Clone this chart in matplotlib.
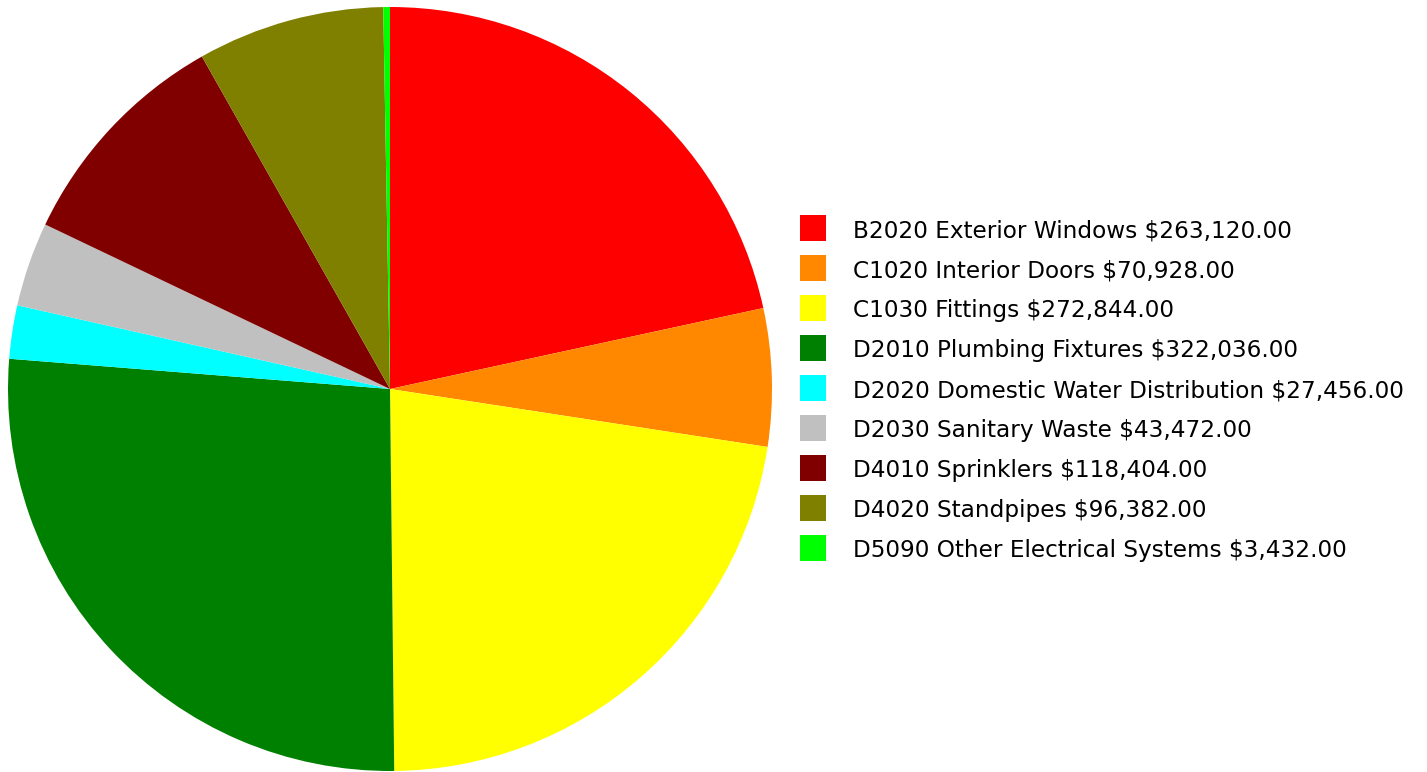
import matplotlib
matplotlib.use('Agg')
import matplotlib.pyplot as plt
from matplotlib.patches import Rectangle

# cost breakdown by system
codes = ['B2020 Exterior Windows', 'C1020 Interior Doors', 'C1030 Fittings',
         'D2010 Plumbing Fixtures', 'D2020 Domestic Water Distribution',
         'D2030 Sanitary Waste', 'D4010 Sprinklers', 'D4020 Standpipes',
         'D5090 Other Electrical Systems']
costs = [263120.00, 70928.00, 272844.00, 322036.00, 27456.00,
         43472.00, 118404.00, 96382.00, 3432.00]
colors = ['#FF0000', '#FF8800', '#FFFF00', '#008000', '#00FFFF',
          '#C0C0C0', '#800000', '#808000', '#00FF00']

W, H = 1427, 772
fig = plt.figure(figsize=(W / 100, H / 100), dpi=100)

# pie: centre ~ (390, 389) px, radius ~382 px
cx, cy, r = 390, 389, 382
ax = fig.add_axes([(cx - r) / W, (H - cy - r) / H, 2 * r / W, 2 * r / H])
ax.pie(costs, colors=colors, startangle=90, counterclock=False,
       wedgeprops=dict(linewidth=0))
ax.set_xlim(-1, 1)
ax.set_ylim(-1, 1)
ax.set_aspect('equal')
ax.axis('off')

# legend drawn by hand
y0, step = 228, 40
for i, (code, cost, col) in enumerate(zip(codes, costs, colors)):
    y = y0 + i * step
    fig.patches.append(Rectangle((800 / W, (H - y - 13) / H), 26 / W, 26 / H,
                                 transform=fig.transFigure, facecolor=col,
                                 edgecolor='none'))
    fig.text(853 / W, (H - y - 3) / H, f'{code} ${cost:,.2f}', fontsize=16.7,
             va='center', ha='left', color='#000000', family='DejaVu Sans')

fig.savefig('out.png', dpi=100)
